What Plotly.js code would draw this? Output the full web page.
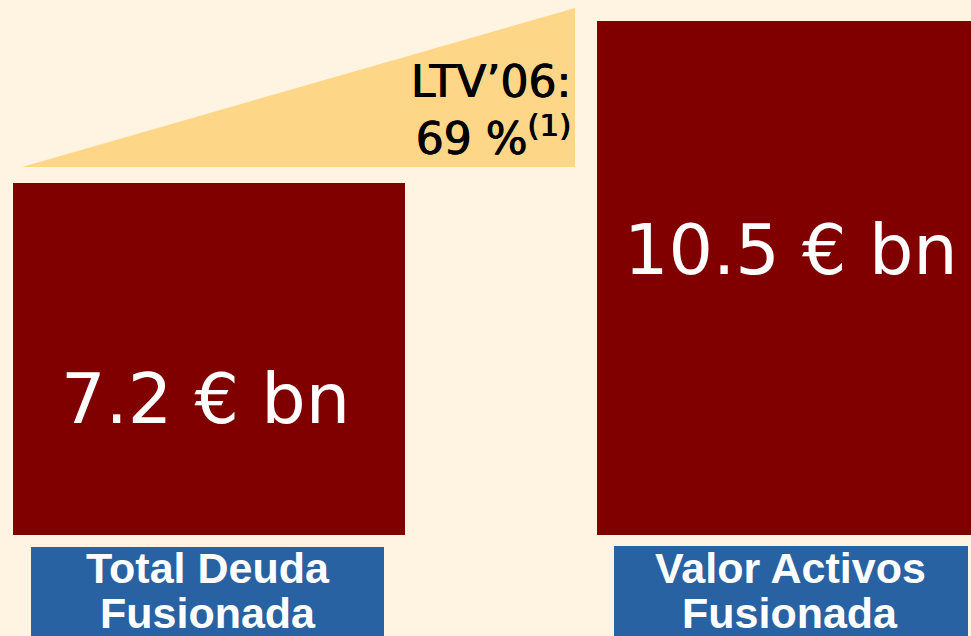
<!DOCTYPE html>
<html>
<head>
<meta charset="utf-8">
<script src="https://cdn.plot.ly/plotly-3.0.1.min.js"></script>
<style>
  html, body { margin: 0; padding: 0; background: #FFF3E1; }
  #chart { width: 971px; height: 636px; }
</style>
</head>
<body>
<div id="chart"></div>
<script>
// ---- data ----
const categories = ["Total Deuda Fusionada", "Valor Activos Fusionada"];
const labelLine1 = ["Total Deuda", "Valor Activos"];
const labelLine2 = ["Fusionada", "Fusionada"];
const values = [7.2, 10.5];          // € bn
const unit = "€ bn";
const ltvYear = "LTV’06:";
const ltvValue = "69 %";
const ltvNote = "(1)";

// ---- layout constants (pixel geometry of the slide) ----
const W = 971, H = 636;
const baseline = 535;                 // pixel y of the bars' base
const topBarPx = 21;                  // pixel y of the tallest bar top
const pxPerUnit = (baseline - topBarPx) / Math.max(...values);
const yMin = -(H - baseline) / pxPerUnit;
const yMax = baseline / pxPerUnit;
const barCenters = [209, 784];
const barWidths = [392, 374];
const py = p => 1 - p / H;            // pixel y -> paper y
const px = p => p / W;                // pixel x -> paper x

const cream = "#FFF3E1";
const barColor = "#800000";
const blue = "#2962A2";
const triColor = "#FED688";

const trace = {
  type: "bar",
  x: barCenters,
  y: values,
  width: barWidths,
  marker: { color: barColor, line: { width: 0 } },
  hoverinfo: "skip",
  name: "values"
};

const annotations = [];
// value labels inside bars
const valueLabelY = [399, 250];
const valueLabelX = [205, 791];
values.forEach((v, i) => {
  annotations.push({
    xref: "x", yref: "paper",
    x: valueLabelX[i], y: py(valueLabelY[i]),
    xanchor: "center", yanchor: "middle",
    text: v.toFixed(1) + " " + unit,
    showarrow: false,
    font: { family: "DejaVu Sans", size: 70, color: "#FFFFFF" }
  });
});
// category labels in blue boxes
const boxCenters = [207.5, 790];
labelLine1.forEach((t, i) => {
  annotations.push({
    xref: "x", yref: "paper", x: boxCenters[i], y: py(568),
    xanchor: "center", yanchor: "middle", showarrow: false,
    text: "<b>" + t + "</b>",
    font: { family: "Liberation Sans, Arial", size: 43, color: "#FFFFFF" }
  });
  annotations.push({
    xref: "x", yref: "paper", x: boxCenters[i], y: py(613),
    xanchor: "center", yanchor: "middle", showarrow: false,
    text: "<b>" + labelLine2[i] + "</b>",
    font: { family: "Liberation Sans, Arial", size: 43, color: "#FFFFFF" }
  });
});
// LTV annotation
annotations.push({
  xref: "paper", yref: "paper", x: px(573), y: py(110),
  xanchor: "right", yanchor: "middle", align: "right", showarrow: false,
  text: ltvYear + "<br>" + ltvValue + "<sup>" + ltvNote + "</sup>",
  font: {
    family: "DejaVu Sans", size: 44, color: "#000000",
    shadow: "0.5px 0 0 #000, -0.5px 0 0 #000"
  }
});

const shapes = [
  // LTV wedge
  {
    type: "path", xref: "paper", yref: "paper", layer: "below",
    path: `M ${px(22)},${py(167)} L ${px(575)},${py(8)} L ${px(575)},${py(167)} Z`,
    fillcolor: triColor, line: { width: 0 }
  },
  // blue label boxes
  {
    type: "rect", xref: "paper", yref: "paper", layer: "below",
    x0: px(31), x1: px(384), y0: py(H + 10), y1: py(547),
    fillcolor: blue, line: { width: 0 }
  },
  {
    type: "rect", xref: "paper", yref: "paper", layer: "below",
    x0: px(614), x1: px(968), y0: py(H + 10), y1: py(546),
    fillcolor: blue, line: { width: 0 }
  }
];

const layout = {
  width: W, height: H,
  margin: { l: 0, r: 0, t: 0, b: 0, pad: 0 },
  paper_bgcolor: cream, plot_bgcolor: cream,
  showlegend: false,
  bargap: 0,
  xaxis: { range: [0, W], visible: false, fixedrange: true },
  yaxis: { range: [yMin, yMax], visible: false, fixedrange: true },
  annotations: annotations,
  shapes: shapes
};

Plotly.newPlot("chart", [trace], layout, { displayModeBar: false, staticPlot: true });
</script>
</body>
</html>
